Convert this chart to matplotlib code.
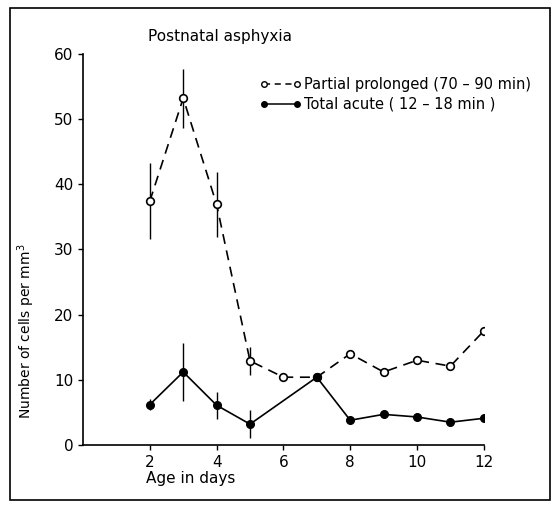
import matplotlib
matplotlib.use("Agg")
import matplotlib.pyplot as plt
from matplotlib.lines import Line2D
from matplotlib.patches import Rectangle

# Data
days_partial = [2, 3, 4, 5, 6, 7, 8, 9, 10, 11, 12]
partial = [37.4, 53.2, 36.9, 12.9, 10.4, 10.4, 14.0, 11.2, 13.0, 12.1, 17.5]
partial_err_days = [2, 3, 4, 5]
partial_err_vals = [37.4, 53.2, 36.9, 12.9]
partial_err = [5.8, 4.5, 5.0, 2.2]

days_total = [2, 3, 4, 5, 7, 8, 9, 10, 11, 12]
total = [6.2, 11.2, 6.1, 3.2, 10.4, 3.8, 4.7, 4.3, 3.5, 4.1]
total_err_days = [2, 3, 4, 5]
total_err_vals = [6.2, 11.2, 6.1, 3.2]
total_err = [0.9, 4.4, 2.1, 2.2]

xticks = [2, 4, 6, 8, 10, 12]
yticks = [0, 10, 20, 30, 40, 50, 60]

plt.rcParams['font.family'] = ['DejaVu Sans']
fig = plt.figure(figsize=(5.59, 5.08), dpi=100)
ax = fig.add_axes([0.1485, 0.124, 0.717, 0.770])

ax.errorbar(partial_err_days, partial_err_vals, yerr=partial_err, fmt='none',
            ecolor='black', elinewidth=1.0, capsize=0)
ax.errorbar(total_err_days, total_err_vals, yerr=total_err, fmt='none',
            ecolor='black', elinewidth=1.0, capsize=0)

ax.plot(days_partial, partial, linestyle=(0, (6, 4)), color='black', lw=1.2,
        marker='o', markersize=5.5, markerfacecolor='white', markeredgecolor='black',
        markeredgewidth=1.2, zorder=3)
ax.plot(days_total, total, linestyle='-', color='black', lw=1.2,
        marker='o', markersize=5.5, markerfacecolor='black', markeredgecolor='black',
        zorder=4)

ax.set_xlim(0, 12)
ax.set_ylim(0, 60)
ax.set_xticks(xticks)
ax.set_yticks(yticks)
for s in ['top', 'right']:
    ax.spines[s].set_visible(False)
ax.spines['left'].set_linewidth(1.2)
ax.spines['bottom'].set_linewidth(1.2)
ax.tick_params(axis='both', direction='out', length=3.5, width=1.0, labelsize=11)
ax.set_xlabel('Age in days', fontsize=11)
ax.xaxis.set_label_coords((146 - 83) / 401, -0.066)
ax.xaxis.label.set_ha('left')
ax.set_ylabel('Number of cells per mm$^3$', fontsize=10)
ax.yaxis.set_label_coords(-0.115, 0.29)

fig.text(148/559, 1 - 37/508, 'Postnatal asphyxia', fontsize=11, ha='left', va='center')

h1 = Line2D([], [], linestyle=(0, (4, 3)), color='black', lw=1.1, marker='o',
            markersize=4, markerfacecolor='white', markeredgecolor='black')
h2 = Line2D([], [], linestyle='-', color='black', lw=1.1, marker='o',
            markersize=4, markerfacecolor='black', markeredgecolor='black')
fig.legend([h1, h2], ['Partial prolonged (70 – 90 min)', 'Total acute ( 12 – 18 min )'],
           loc='upper left', bbox_to_anchor=(252/559, 1 - 70/508), frameon=False,
           fontsize=10.5, numpoints=2, handlelength=2.9, handletextpad=0.2,
           borderpad=0, labelspacing=0.3)

fig.add_artist(Rectangle((10/559, 1 - 500/508), 540/559, 492/508,
                         transform=fig.transFigure, fill=False, lw=1.2,
                         edgecolor='black'))

fig.savefig('out.png', dpi=100)
